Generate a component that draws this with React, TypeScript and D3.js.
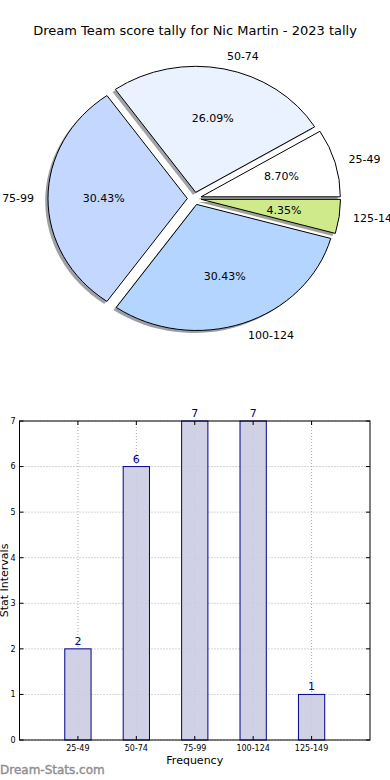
import * as d3 from 'd3'

// pie + bar data (2023 tally)
const categories = ['25-49', '50-74', '75-99', '100-124', '125-149']
const counts = [2, 6, 7, 7, 1]
const sliceColors = ['#ffffff', '#eaf1ff', '#c4d8ff', '#b4d5ff', '#ceea8a']
const yTicks = [0, 1, 2, 3, 4, 5, 6, 7]

const W = 390
const H = 780
const FONT = 'DejaVu Sans, sans-serif'

// pie geometry (matplotlib pie on a non-square axes -> ellipse)
const cx = 194.3
const cy = 198.5
const rx = 139.3
const ry = 126
const explode = 0.05

// bar chart frame
const plot = { left: 19.5, right: 370, top: 421, bottom: 740 }

function shade(c: string) {
  const col = d3.rgb(c)
  return d3.rgb(col.r * 0.3, col.g * 0.3, col.b * 0.3).formatHex()
}

function PieChart() {
  const total = d3.sum(counts)
  const arcs = d3.pie<number>().sort(null)
    .startAngle(Math.PI / 2)
    .endAngle(Math.PI / 2 - 2 * Math.PI)(counts)
  const arc = d3.arc<d3.PieArcDatum<number>>().innerRadius(0).outerRadius(1)

  const items = arcs.map((a, i) => {
    const mid = (a.startAngle + a.endAngle) / 2
    const ux = Math.sin(mid)
    const uy = -Math.cos(mid)
    return {
      a,
      i,
      ux,
      uy,
      ox: cx + explode * rx * ux,
      oy: cy + explode * ry * uy
    }
  })

  return (
    <g>
      {items.map(d => (
        <path
          key={'s' + d.i}
          d={arc(d.a) || ''}
          transform={`translate(${d.ox - 0.02 * rx},${d.oy + 0.02 * ry}) scale(${rx},${ry})`}
          fill={shade(sliceColors[d.i])}
          opacity={0.5}
        />
      ))}
      {items.map(d => (
        <path
          key={'w' + d.i}
          d={arc(d.a) || ''}
          transform={`translate(${d.ox},${d.oy}) scale(${rx},${ry})`}
          fill={sliceColors[d.i]}
          stroke="#000"
          strokeWidth={1}
          vectorEffect="non-scaling-stroke"
        />
      ))}
      {items.map(d => (
        <text
          key={'l' + d.i}
          x={d.ox + 1.1 * rx * d.ux}
          y={d.oy + 1.1 * ry * d.uy}
          dy="0.35em"
          textAnchor={d.ux > 0 ? 'start' : 'end'}
          fontSize={11}
          fill="#000"
        >
          {categories[d.i]}
        </text>
      ))}
      {items.map(d => (
        <text
          key={'p' + d.i}
          x={d.ox + 0.6 * rx * d.ux}
          y={d.oy + 0.6 * ry * d.uy}
          dy="0.35em"
          textAnchor="middle"
          fontSize={11}
          fill="#000"
        >
          {((counts[d.i] / total) * 100).toFixed(2)}%
        </text>
      ))}
    </g>
  )
}

function BarChart() {
  const x = d3.scaleLinear().domain([-1, categories.length]).range([plot.left, plot.right])
  const y = d3.scaleLinear().domain([0, 7]).range([plot.bottom, plot.top])
  const bw = x(0.45) - x(0)

  return (
    <g>
      {/* grid */}
      {yTicks.map(t => (
        <line key={'gy' + t} x1={plot.left} x2={plot.right} y1={y(t)} y2={y(t)}
          stroke="#aaa" strokeWidth={1} strokeDasharray="1,2" />
      ))}
      {categories.map((c, i) => (
        <line key={'gx' + c} x1={x(i)} x2={x(i)} y1={plot.top} y2={plot.bottom}
          stroke="#aaa" strokeWidth={1} strokeDasharray="1,2" />
      ))}

      {/* bars */}
      {counts.map((v, i) => (
        <rect key={'b' + i} x={x(i) - bw / 2} y={y(v)} width={bw} height={y(0) - y(v)}
          fill="#ccccE3" fillOpacity={0.9} stroke="#00008b" strokeWidth={1} />
      ))}
      {counts.map((v, i) => (
        <text key={'v' + i} x={x(i)} y={y(v) - 4} textAnchor="middle"
          fontSize={11} fill="#00008b">{v}</text>
      ))}

      {/* frame + ticks */}
      <rect x={plot.left} y={plot.top} width={plot.right - plot.left} height={plot.bottom - plot.top}
        fill="none" stroke="#000" strokeWidth={1} />
      {yTicks.map(t => (
        <g key={'ty' + t}>
          <line x1={plot.left} x2={plot.left + 4} y1={y(t)} y2={y(t)} stroke="#000" />
          <line x1={plot.right - 4} x2={plot.right} y1={y(t)} y2={y(t)} stroke="#000" />
          <text x={plot.left - 4} y={y(t)} dy="0.35em" textAnchor="end" fontSize={8} fill="#000">{t}</text>
        </g>
      ))}
      {categories.map((c, i) => (
        <g key={'tx' + c}>
          <line x1={x(i)} x2={x(i)} y1={plot.bottom} y2={plot.bottom - 4} stroke="#000" />
          <line x1={x(i)} x2={x(i)} y1={plot.top} y2={plot.top + 4} stroke="#000" />
          <text x={x(i)} y={plot.bottom + 8} dy="0.35em" textAnchor="middle" fontSize={8} fill="#000">{c}</text>
        </g>
      ))}

      {/* axis titles */}
      <text x={(plot.left + plot.right) / 2} y={760} dy="0.35em" textAnchor="middle" fontSize={11}>Frequency</text>
      <text transform={`translate(4,${(plot.top + plot.bottom) / 2}) rotate(-90)`} dy="0.35em"
        textAnchor="middle" fontSize={11}>Stat Intervals</text>
    </g>
  )
}

export default function App() {
  return (
    <svg width={W} height={H} fontFamily={FONT}
      style={{ position: 'absolute', left: 0, top: 0, background: '#fff' }}>
      <rect width={W} height={H} fill="#fff" />
      <text x={195} y={30} dy="0.35em" textAnchor="middle" fontSize={13} fill="#000">
        Dream Team score tally for Nic Martin - 2023 tally
      </text>
      <PieChart />
      <BarChart />
      <text x={0} y={770} dy="0.35em" fontSize={12} fill="#8f8f8f" stroke="#8f8f8f" strokeWidth={0.4}>
        Dream-Stats.com
      </text>
    </svg>
  )
}
